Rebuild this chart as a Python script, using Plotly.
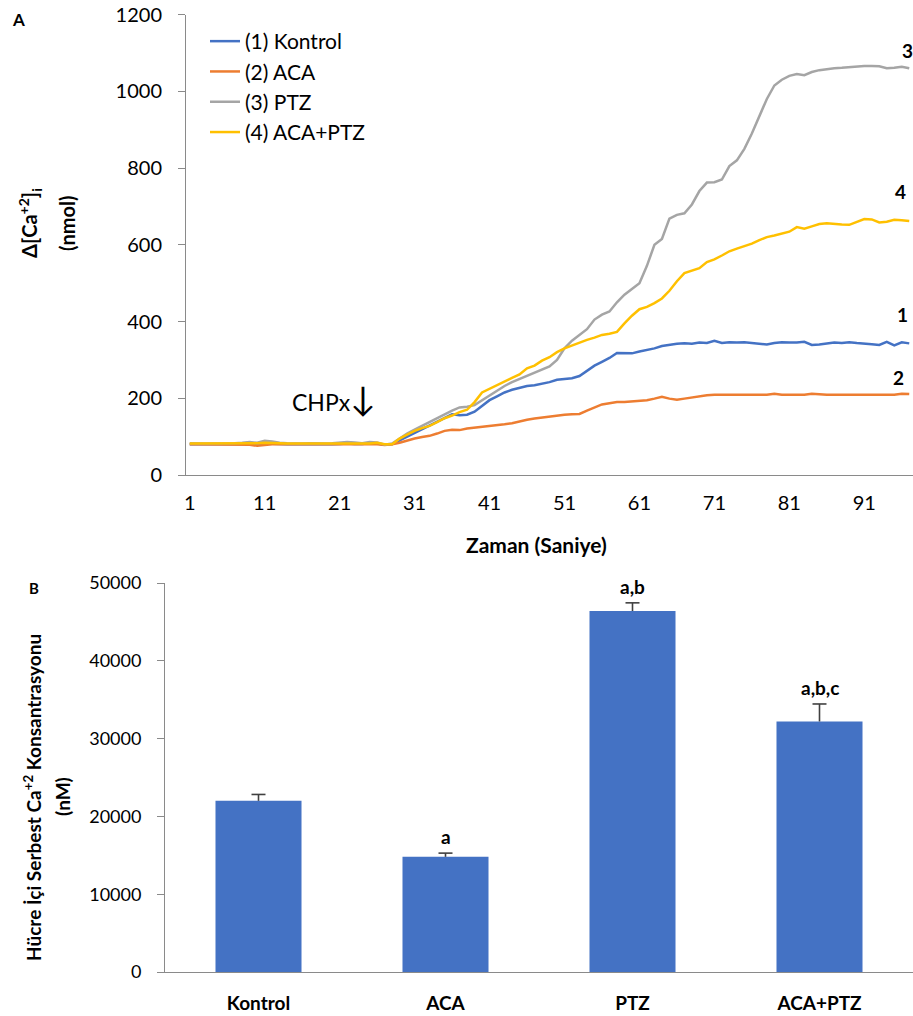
import plotly.graph_objects as go

W, H = 913, 1016
FONT = "Lato"

# ---------------- Panel A data ----------------
time_points = list(range(1, 98))
kontrol = [80, 80, 80, 81, 80, 80, 81, 80, 81, 83, 82, 81, 80, 80, 81, 80,
           80, 81, 80, 80, 81, 82, 81, 81, 83, 82, 79, 80,
           90, 100, 110, 118, 128, 138, 150, 158, 156, 157, 165, 180, 195, 205,
           215, 222, 228, 232, 234, 238, 242, 248, 250, 252, 258, 272, 285, 295,
           305, 318, 318, 317, 322, 326, 330, 336, 340, 342, 343, 342, 345, 344,
           350, 344, 346, 345, 346, 344, 341, 340, 344, 346, 345, 345, 347, 339,
           340, 343, 345, 344, 346, 344, 343, 341, 339, 347, 338, 346, 343]
aca = [80, 80, 80, 80, 80, 80, 80, 80, 79, 76, 78, 80, 80, 80, 80, 80,
       80, 80, 80, 80, 79, 79, 80, 79, 79, 80, 78, 80,
       84, 90, 95, 99, 102, 108, 115, 118, 117, 121, 123, 126, 128, 130,
       132, 135, 140, 144, 147, 150, 152, 155, 157, 158, 159, 168, 177, 184,
       187, 190, 190, 192, 193, 195, 199, 204, 199, 196, 199, 202, 205, 208,
       209, 209, 210, 209, 209, 209, 209, 209, 212, 209, 209, 209, 209, 212,
       210, 209, 209, 209, 209, 209, 209, 209, 209, 209, 209, 212, 211]
ptz = [83, 82, 82, 82, 82, 82, 83, 84, 86, 84, 89, 87, 84, 83, 82, 82,
       83, 82, 82, 83, 84, 86, 85, 83, 86, 85, 79, 82,
       95, 108, 118, 128, 138, 150, 160, 168, 176, 178, 182, 195, 207, 220,
       232, 242, 250, 258, 265, 275, 283, 300, 330, 350, 365, 380, 405, 418,
       426, 450, 470, 485, 500, 545, 600, 615, 668, 678, 682, 705, 740, 762,
       763, 770, 805, 820, 850, 890, 935, 980, 1015, 1030, 1040, 1045, 1042, 1050,
       1055, 1058, 1060, 1061, 1063, 1065, 1066, 1066, 1065, 1060, 1061, 1064, 1060]
aca_ptz = [82, 82, 82, 82, 82, 83, 82, 82, 82, 83, 84, 83, 82, 82, 82, 82,
           82, 82, 82, 82, 82, 83, 83, 82, 82, 84, 80, 80,
           95, 105, 115, 122, 128, 138, 148, 155, 164, 170, 190, 215, 225, 235,
           244, 253, 262, 278, 285, 298, 307, 320, 330, 338, 345, 352, 358, 365,
           368, 373, 395, 415, 432, 438, 448, 460, 480, 505, 526, 532, 539, 555,
           562, 572, 583, 590, 596, 603, 612, 620, 624, 630, 634, 646, 642, 648,
           654, 656, 654, 653, 652, 660, 667, 666, 658, 660, 665, 664, 662]

series_names = ["(1) Kontrol", "(2) ACA", "(3) PTZ", "(4) ACA+PTZ"]
series_colors = ["#4472C4", "#ED7D31", "#A5A5A5", "#FFC000"]
series_values = [kontrol, aca, ptz, aca_ptz]
end_labels = ["1", "2", "3", "4"]

x_tick_vals = [1, 11, 21, 31, 41, 51, 61, 71, 81, 91]
y_ticks_a = [0, 200, 400, 600, 800, 1000, 1200]

# ---------------- Panel B data ----------------
groups = ["Kontrol", "ACA", "PTZ", "ACA+PTZ"]
means = [22000, 14800, 46400, 32200]
errors = [820, 480, 1050, 2250]
sig_labels = ["", "a", "a,b", "a,b,c"]
y_ticks_b = [0, 10000, 20000, 30000, 40000, 50000]

AXIS = "#8a8a8a"


def px(x):
    return x / W


def py(y):
    return 1 - y / H


def ann(text, x, y, size, bold=True, angle=0, **kw):
    d = dict(text=text, x=px(x), y=py(y), xref="paper", yref="paper",
             xanchor="center", yanchor="middle", showarrow=False, textangle=angle,
             font=dict(size=size, color="#000000", family=FONT,
                       weight="bold" if bold else "normal"))
    d.update(kw)
    return d


fig = go.Figure()

for name, col, vals in zip(series_names, series_colors, series_values):
    fig.add_trace(go.Scatter(
        x=time_points, y=vals, mode="lines", name=name,
        line=dict(color=col, width=2.5), legendgroup=name,
        xaxis="x", yaxis="y"))

fig.add_trace(go.Bar(
    x=groups, y=means, marker=dict(color="#4472C4", line=dict(width=0)),
    width=0.46, showlegend=False, xaxis="x2", yaxis="y2"))

# upper-only error bars: cap marker at mean+err, stem going down to the bar top
fig.add_trace(go.Scatter(
    x=groups, y=[m + e for m, e in zip(means, errors)], mode="markers",
    marker=dict(symbol="line-ew", size=10, line=dict(color="#404040", width=1.6)),
    error_y=dict(type="data", symmetric=False, array=[0] * len(errors),
                 arrayminus=errors, color="#404040", thickness=1.6, width=0),
    showlegend=False, hoverinfo="skip", xaxis="x2", yaxis="y2"))

annotations = []
end_pos = {"3": (907, 50), "4": (900, 191), "1": (902, 314), "2": (898, 377)}
for lab in end_labels:
    x0, y0 = end_pos[lab]
    annotations.append(ann(lab, x0, y0, 19))

annotations.append(ann("CHPx<span style='font-size:34px'>↓</span>", 334, 397, 23, bold=False))

annotations.append(ann("A", 18, 20, 17))
annotations.append(ann("B", 34, 588, 15))

annotations.append(ann("Δ[Ca<sup>+2</sup>]<sub>i</sub>", 30, 223, 20, angle=-90))
annotations.append(ann("(nmol)", 67, 224, 20, angle=-90))
annotations.append(ann("Zaman (Saniye)", 536, 544, 21))

annotations.append(ann("Hücre İçi Serbest Ca<sup>+2</sup> Konsantrasyonu", 32, 798, 19, angle=-90))
annotations.append(ann("(nM)", 62, 797, 19, angle=-90))

for g, m, e, s in zip(groups, means, errors, sig_labels):
    if s:
        annotations.append(dict(text=s, x=g, y=m + e, xref="x2", yref="y2",
                                xanchor="center", yanchor="bottom", yshift=3,
                                showarrow=False,
                                font=dict(size=19, color="#000000", family=FONT,
                                          weight="bold")))

common = dict(showgrid=False, zeroline=False, showline=True, linecolor=AXIS,
              linewidth=1, automargin=False)

fig.update_layout(
    width=W, height=H, margin=dict(l=0, r=0, t=0, b=0, pad=0, autoexpand=False),
    paper_bgcolor="white", plot_bgcolor="white",
    font=dict(family=FONT, color="#000000"),
    showlegend=True,
    legend=dict(x=px(205), y=py(21), xanchor="left", yanchor="top",
                bgcolor="rgba(0,0,0,0)", font=dict(size=21, family=FONT, color="#000000"),
                tracegroupgap=0, itemwidth=30),
    annotations=annotations,
    xaxis=dict(domain=[px(186), 1], range=[0.5, 97.5], tickvals=x_tick_vals,
               ticks="", tickfont=dict(size=20, family=FONT),
               ticklabelstandoff=10, anchor="y", **common),
    yaxis=dict(domain=[py(475), py(14.5)], range=[0, 1200], tickvals=y_ticks_a,
               ticks="outside", ticklen=7, tickcolor=AXIS,
               tickfont=dict(size=20, family=FONT), ticklabelstandoff=12, anchor="x",
               **common),
    xaxis2=dict(domain=[px(165), 1], range=[-0.5, 3.5], type="category",
                ticks="", tickfont=dict(size=19, family=FONT, weight="bold"),
                ticklabelstandoff=14, anchor="y2", **common),
    yaxis2=dict(domain=[py(972), py(583)], range=[0, 50000], tickvals=y_ticks_b,
                tickformat="d", ticks="outside", ticklen=7, tickcolor=AXIS,
                tickfont=dict(size=18, family=FONT), ticklabelstandoff=12, anchor="x2",
                **common),
)

fig.write_html("out.html")
